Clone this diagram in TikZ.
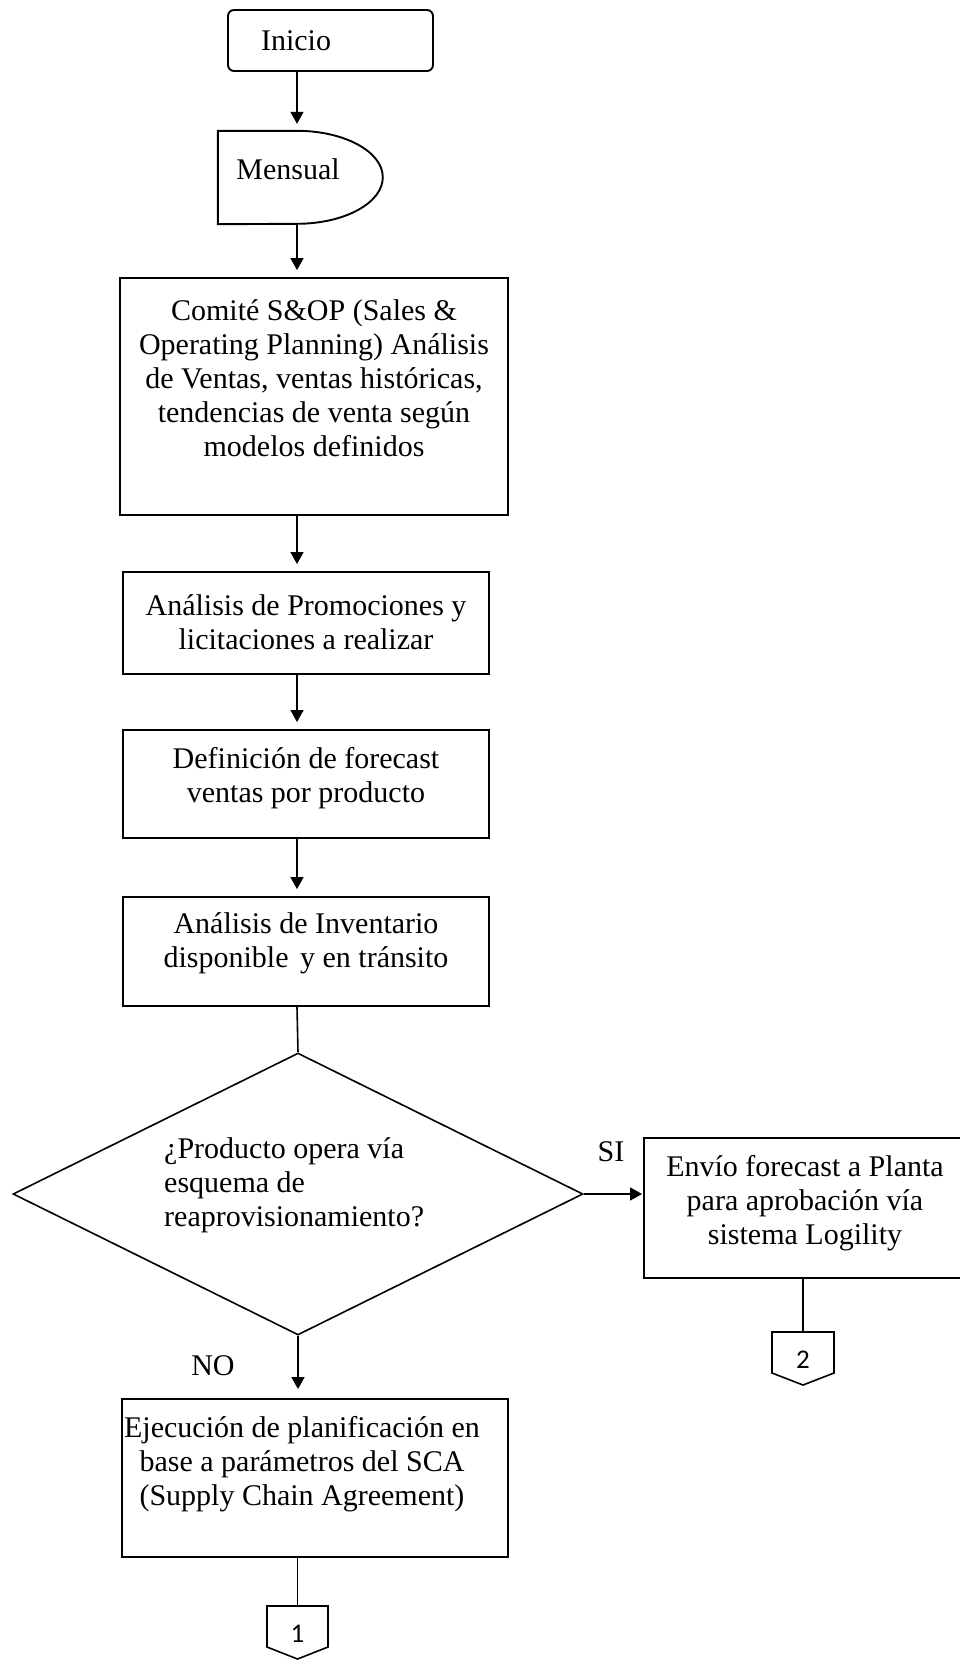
\documentclass[tikz,border=0pt]{standalone}
\usepackage{fontspec}
\setmainfont{Liberation Serif}
\newfontfamily\connfont{Carlito}
\usetikzlibrary{arrows.meta,shapes.geometric}

\tikzset{
  boxnode/.style={draw, line width=1.9pt, rectangle, inner sep=0pt},
  txt/.style={anchor=north, inner sep=0pt, align=center},
  flow/.style={line width=1.6pt, -{Triangle[length=12pt,width=13pt]}, shorten >=7pt},
  plain/.style={line width=1.6pt},
  lbl/.style={anchor=base, inner sep=0pt},
  digit/.style={inner sep=0pt, font=\connfont\fontsize{27}{30}\selectfont},
}

\begin{document}
\begin{tikzpicture}[x=1pt, y=-1pt,
  every node/.append style={font=\fontsize{30}{34}\selectfont}]
\fill[white] (0,0) rectangle (960,1660);
\useasboundingbox (0,0) rectangle (960,1660);

% main flow axis
\coordinate (axis) at (297,0);

% start terminator
\node[boxnode, rounded corners=6pt, minimum width=205, minimum height=61] (inicio) at (330.5,40.5) {};
\node[txt] (inicioT) at (296,26.2) {\strut Inicio};

% delay shape: straight left part, half-ellipse on the right
\node[inner sep=0pt, minimum width=165, minimum height=93] (mensual) at (300.5,177.5) {};
\draw[line width=1.9pt] (mensual.north west) -- ++(79,0)
  arc[start angle=-90, end angle=90, x radius=86, y radius=46.5]
  -- (mensual.south west) -- cycle;
\node[txt] (mensualT) at (288,155.2) {\strut Mensual};

% process boxes
\node[boxnode, minimum width=388, minimum height=237] (comite) at (314,396.5) {};
\node[txt] (comiteT) at (314,296.2) {\strut Comité S\&OP (Sales \&\\\strut Operating Planning) Análisis\\\strut de Ventas, ventas históricas,\\\strut tendencias de venta según\\\strut modelos definidos};

\node[boxnode, minimum width=366, minimum height=102] (promo) at (306,623) {};
\node[txt] (promoT) at (306,591.2) {\strut Análisis de Promociones y\\\strut licitaciones a realizar};

\node[boxnode, minimum width=366, minimum height=108] (defin) at (306,784) {};
\node[txt] (definT) at (306,744.2) {\strut Definición de forecast\\\strut ventas por producto};

\node[boxnode, minimum width=366, minimum height=109] (invent) at (306,951.5) {};
\node[txt] (inventT) at (306,909.2) {\strut Análisis de Inventario\\\strut disponible\hspace{4pt} y en tránsito};

% decision
\node[draw, line width=1.6pt, shape=diamond, inner sep=0pt, minimum width=570, minimum height=282] (decision) at (298,1194) {};
\node[anchor=north west, inner sep=0pt, align=left] (decisionT) at (164,1134.2) {\strut ¿Producto opera vía\\\strut esquema de\\\strut reaprovisionamiento?};

% branch labels
\node[lbl] (si) at (611,1161) {SI};
\node[lbl] (no) at (213,1375) {NO};

% outcome boxes
\node[boxnode, minimum width=319, minimum height=140] (envio) at (803.5,1208) {};
\node[txt] (envioT) at (805,1152.2) {\strut Envío forecast a Planta\\\strut para aprobación vía\\\strut sistema Logility};

\node[boxnode, minimum width=386, minimum height=158] (ejec) at (315,1478) {};
\node[txt] (ejecT) at (302,1413.2) {\strut Ejecución de planificación en\\\strut base a parámetros del SCA\\\strut (Supply Chain Agreement)};

% off-page connectors
\coordinate (c1) at (297.5,1606);
\draw[line width=1.6pt] (c1) ++(-30.5,0) -- ++(61,0) -- ++(0,41) -- ++(-30.5,12) -- ++(-30.5,-12) -- cycle;
\node[digit] (c1T) at (297.5,1634) {1};

\coordinate (c2) at (803,1332);
\draw[line width=1.6pt] (c2) ++(-31,0) -- ++(62,0) -- ++(0,41) -- ++(-31,12) -- ++(-31,-12) -- cycle;
\node[digit] (c2T) at (803,1360) {2};

% connectors
\draw[flow] (inicio.south -| axis) -- (mensual.north -| axis);
\draw[flow] (mensual.south -| axis) -- (comite.north -| axis);
\draw[flow] (comite.south -| axis) -- (promo.north -| axis);
\draw[flow] (promo.south -| axis) -- (defin.north -| axis);
\draw[flow] (defin.south -| axis) -- (invent.north -| axis);
\draw[plain] (invent.south -| axis) -- (decision.north);
\draw[flow, shorten >=9pt] (decision.south) -- (ejec.north -| decision.south);
\draw[flow, shorten >=1pt] (decision.east) -- (envio.west |- decision.east);
\draw[plain] (envio.south -| c2) -- (c2);
\draw[plain] (ejec.south -| c1) -- (c1);
\end{tikzpicture}
\end{document}
